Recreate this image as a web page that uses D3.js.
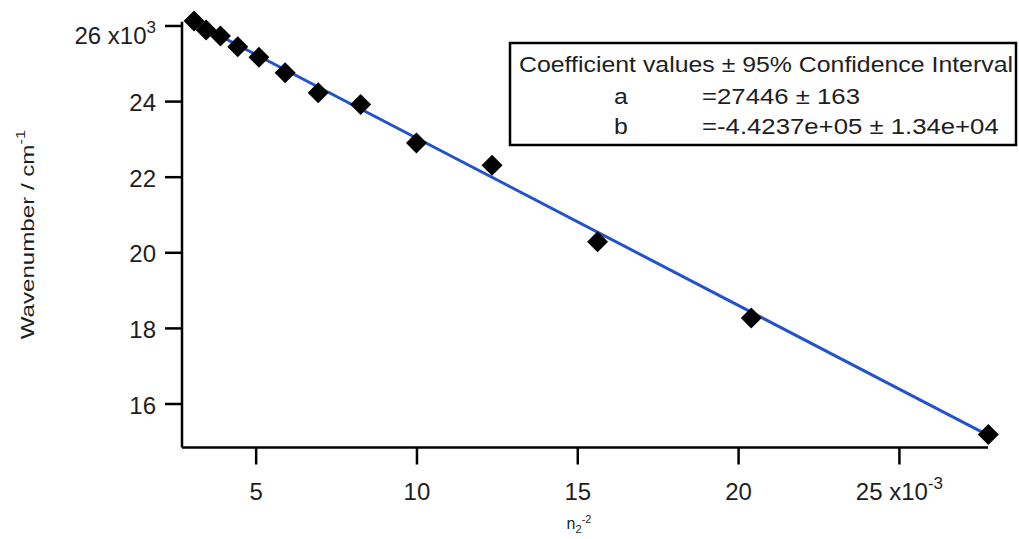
<!DOCTYPE html>
<html>
<head>
<meta charset="utf-8">
<script src="https://cdn.jsdelivr.net/npm/d3@7"></script>
<style>
  html, body { margin: 0; padding: 0; background: #fff; }
  svg { display: block; font-family: "Liberation Sans", Arial, sans-serif; }
</style>
</head>
<body>
<svg id="chart" width="1019" height="539"></svg>
<script>
// n2^-2 values (x 10^-3) and measured wavenumbers (x 10^3 cm^-1)
const xValues = [3.086, 3.460, 3.906, 4.444, 5.102, 5.917, 6.944, 8.264, 10.00, 12.35, 15.63, 20.41, 27.78];
const yValues = [26.12, 25.88, 25.72, 25.44, 25.16, 24.75, 24.22, 23.91, 22.89, 22.30, 20.28, 18.26, 15.18];

// linear fit y = a + b*x
const fitA = 27446;
const fitB = -4.4237e5;

const xTicks = [5, 10, 15, 20, 25];
const yTicks = [16, 18, 20, 22, 24, 26];

const legendTitle = "Coefficient values \u00b1 95% Confidence Interval";
const legendRows = [
  { name: "a", text: "=27446 \u00b1 163" },
  { name: "b", text: "=-4.4237e+05 \u00b1 1.34e+04" }
];

const svg = d3.select("#chart");
const plotLeft = 182, plotRight = 988, plotTop = 21.7, plotBottom = 447.5;

const x = d3.scaleLinear().domain([2.71, 27.77]).range([plotLeft, plotRight]);
const y = d3.scaleLinear().domain([14.836, 26.10]).range([plotBottom, plotTop]);

const tickFont = 24;
const ink = "#1e1e1e";

// axes
const xAxis = d3.axisBottom(x).tickValues(xTicks).tickSize(17).tickPadding(18)
  .tickFormat(d => d);
const yAxis = d3.axisLeft(y).tickValues(yTicks).tickSize(17).tickPadding(9)
  .tickFormat(d => d);

const gx = svg.append("g").attr("transform", `translate(0,${plotBottom})`).call(xAxis);
const gy = svg.append("g").attr("transform", `translate(${plotLeft},0)`).call(yAxis);

[gx, gy].forEach(g => {
  g.select(".domain").attr("stroke", "#000").attr("stroke-width", 2.5)
    .attr("d", g === gx ? `M${plotLeft},0H${plotRight}` : `M0,${plotTop}V${plotBottom}`);
  g.selectAll(".tick line").attr("stroke", "#000").attr("stroke-width", 2.5);
  g.selectAll(".tick text").attr("fill", ink).attr("font-size", tickFont)
    .attr("font-family", "Liberation Sans, Arial, sans-serif");
});
gy.selectAll(".tick text").attr("dy", "0.4em");

// exponent on the last x tick label
gx.selectAll(".tick text").filter(d => d === 25).each(function () {
  const t = d3.select(this).text("");
  t.append("tspan").text("25 x10");
  t.append("tspan").attr("font-size", 17).attr("dy", "-0.6em").text("-3");
});

// exponent on the top y tick label
gy.selectAll(".tick text").filter(d => d === 26).each(function () {
  const t = d3.select(this).text("").attr("dy", "0.73em");
  t.append("tspan").text("26 x10");
  t.append("tspan").attr("font-size", 17).attr("dy", "-0.6em").text("3");
});

// fit line over the data range
const xr = d3.extent(xValues);
const fitPts = xr.map(v => [v, (fitA + fitB * v * 1e-3) / 1e3]);
svg.append("path")
  .attr("d", d3.line().x(d => x(d[0])).y(d => y(d[1]))(fitPts))
  .attr("stroke", "#2352cc").attr("stroke-width", 3).attr("fill", "none");

// data markers
const diamond = d3.symbol().type(d3.symbolSquare).size(220);
svg.append("g").selectAll("path").data(xValues).join("path")
  .attr("d", diamond)
  .attr("transform", (d, i) => `translate(${x(d)},${y(yValues[i])}) rotate(45)`)
  .attr("fill", "#000");

// axis titles
const xt = svg.append("text").attr("x", 579).attr("y", 529)
  .attr("text-anchor", "middle").attr("font-size", 16).attr("fill", ink);
xt.append("tspan").text("n");
xt.append("tspan").attr("font-size", 11).attr("dy", "0.4em").text("2");
xt.append("tspan").attr("font-size", 11).attr("dy", "-0.95em").text("-2");

const yt = svg.append("text")
  .attr("transform", `translate(34,${(plotTop + plotBottom) / 2}) rotate(-90) scale(1.27,1)`)
  .attr("text-anchor", "middle").attr("font-size", 19).attr("fill", ink);
yt.append("tspan").text("Wavenumber / cm");
yt.append("tspan").attr("font-size", 13).attr("dy", "-0.7em").text("-1");

// coefficient box
const legendFont = 22;
const box = svg.append("g");
box.append("rect").attr("x", 510).attr("y", 43).attr("width", 506).attr("height", 102)
  .attr("fill", "#fff").attr("stroke", "#000").attr("stroke-width", 2.5);

function boxText(tx, ty, anchor, str, stretch) {
  box.append("text")
    .attr("transform", `translate(${tx},${ty}) scale(${stretch},1)`)
    .attr("text-anchor", anchor).attr("font-size", legendFont).attr("fill", ink)
    .text(str);
}
boxText(766, 72, "middle", legendTitle, 1.13);
legendRows.forEach((r, i) => {
  const by = 104 + i * 30;
  boxText(621, by, "middle", r.name, 1.13);
  boxText(702, by, "start", r.text, 1.17);
});
</script>
</body>
</html>
